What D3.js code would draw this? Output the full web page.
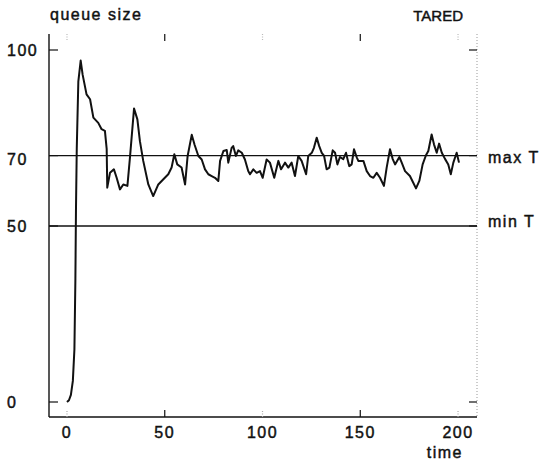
<!DOCTYPE html>
<html>
<head>
<meta charset="utf-8">
<script src="https://cdn.jsdelivr.net/npm/d3@7"></script>
<style>
  body { margin: 0; background: #fff; }
  text { font-family: "Liberation Sans", Arial, sans-serif; fill: #111; stroke: #111; stroke-width: 0.45px; }
</style>
</head>
<body>
<svg id="coversvg" width="542" height="462"></svg>
<script>
// queue size over time
var times = [0, 1, 2, 3, 3.8, 4.3, 4.6, 5, 5.8, 7, 8, 10, 11.8, 13.5, 16, 17.7, 19.4, 20.3, 20.6,
  22, 24, 25.4, 27.1, 28.8, 30.9, 32.2, 34.3, 36, 37.3, 39, 41.6, 44.1, 46.7, 49.3, 51.8,
  53.5, 54.9, 56.4, 58.6, 60.4, 61.7, 63.8, 65.3, 67.2, 68.9, 70.6, 72.3, 74, 75.7, 77.4,
  78.3, 80, 81.7, 82.5, 84.2, 85, 86.4, 87.6, 89.4, 91, 92.7, 93.6, 95.3, 97, 98.7, 100.1,
  102.1, 103.8, 106, 108.1, 109.5, 111.5, 113.2, 114.9, 116.6, 118.3, 120, 122.3, 123.4,
  125.2, 126.3, 127.7, 129, 130.3, 131.5, 132.8, 134.2, 135.9, 137.1, 138.3, 139.6, 141.3,
  142.7, 143.9, 144.4, 145.6, 146.8, 148.2, 149, 151.6, 153.3, 155, 156.7, 158.4, 160.1,
  162.1, 163.5, 165.2, 166.6, 167.8, 170, 171.2, 172.9, 175.4, 177.1, 178.5, 180.2, 181.9,
  183.6, 184.8, 186.5, 187.7, 189.1, 190.3, 191.7, 193.4, 195, 196.3, 197.6, 199.3, 200.5];
var queue = [0, 0.5, 2, 6, 15, 35, 55, 72, 91, 97, 93, 87.4, 86, 80.8, 79.3, 77.5, 77, 71.9, 60.9,
  65.1, 66.1, 63.7, 60.4, 61.8, 61.4, 69.4, 83.4, 80.3, 74.1, 68.5, 61.8, 58.5, 61.8, 63.3, 64.7,
  66.6, 70.4, 67.5, 66.6, 61.8, 69.9, 75.9, 73, 69.9, 68.9, 66.1, 64.7, 64.2, 63.7, 62.8,
  68.5, 71.3, 71.6, 68, 72.2, 72.7, 69.9, 71.5, 70.8, 68.9, 65.6, 64.7, 66.1, 65.1, 65.6, 63.7,
  68.9, 68, 63.7, 68.5, 66.1, 68, 66.6, 68, 64.2, 69.9, 68.5, 64.7, 69.9,
  70.8, 72.2, 75.1, 72.7, 70.8, 69.9, 66.1, 66.6, 71.5, 70.8, 67.5, 69.6, 69,
  70.8, 68, 67, 67.5, 71.8, 69.5, 68.5, 68.5, 65.6, 64.2, 63.7, 65.1, 63.7,
  61.4, 66.6, 71.8, 69, 67.5, 69.6, 68, 65.6, 64.2, 62.3, 60.7, 62.8, 67.5,
  70.1, 71.3, 76, 73.2, 70.8, 73.4, 70.8, 69, 67.5, 64.7, 68, 70.8, 68];

var xTicks = [0, 50, 100, 150, 200];
var yTicks = [0, 50, 70, 100];
var thresholds = [{name: 'max T', value: 70}, {name: 'min T', value: 50}];

var svg = d3.select('#coversvg');

var xScale = d3.scaleLinear()
               .domain([-9.2, 209.7])
               .range([49, 477]);
var yScale = d3.scaleLinear()
               .domain([0, 100])
               .range([402, 50]);

var yTop = 34, yBottom = 417;

// frame: solid left + bottom, dotted right
svg.append('line')
   .attr('x1', 49).attr('x2', 49)
   .attr('y1', yTop).attr('y2', yBottom)
   .style('stroke', '#111').style('stroke-width', '1.4px');
svg.append('line')
   .attr('x1', 49).attr('x2', 477)
   .attr('y1', yBottom).attr('y2', yBottom)
   .style('stroke', '#111').style('stroke-width', '1.4px');
svg.append('line')
   .attr('x1', 477).attr('x2', 477)
   .attr('y1', yTop).attr('y2', yBottom)
   .style('stroke', '#999').style('stroke-width', '1px')
   .style('stroke-dasharray', '1 2');

// x ticks, bottom and top
xTicks.forEach(function(t, i){
  var solid = (t == 50 || t == 150);
  svg.append('line')
     .attr('x1', xScale(t)).attr('x2', xScale(t))
     .attr('y1', yBottom).attr('y2', yBottom - 7)
     .style('stroke', solid ? '#111' : '#aaa')
     .style('stroke-width', '1.2px')
     .style('stroke-dasharray', solid ? null : '1 1.5');
  svg.append('line')
     .attr('x1', xScale(t)).attr('x2', xScale(t))
     .attr('y1', yTop).attr('y2', yTop + 7)
     .style('stroke', solid ? '#111' : '#bbb')
     .style('stroke-width', '1.2px')
     .style('stroke-dasharray', solid ? null : '1 1.5');
  svg.append('text')
     .attr('x', xScale(t))
     .attr('y', 438)
     .attr('text-anchor', 'middle')
     .style('font-size', '16px')
     .style('letter-spacing', '1.5px')
     .text(t);
});

// y ticks on left and right
yTicks.forEach(function(v){
  svg.append('line')
     .attr('x1', 49).attr('x2', 58)
     .attr('y1', yScale(v)).attr('y2', yScale(v))
     .style('stroke', '#111').style('stroke-width', '1.2px');
  svg.append('line')
     .attr('x1', 477).attr('x2', 469)
     .attr('y1', yScale(v)).attr('y2', yScale(v))
     .style('stroke', '#111').style('stroke-width', '1.2px');
  svg.append('text')
     .attr('x', 7)
     .attr('y', yScale(v))
     .attr('dy', v == 70 ? '0.6em' : '0.36em')
     .style('font-size', '16px')
     .style('letter-spacing', '1.5px')
     .text(v);
});

// threshold lines
thresholds.forEach(function(d){
  svg.append('line')
     .attr('x1', 49).attr('x2', 477)
     .attr('y1', yScale(d.value)).attr('y2', yScale(d.value))
     .style('stroke', '#111').style('stroke-width', '1.3px');
  svg.append('text')
     .attr('x', 488)
     .attr('y', yScale(d.value))
     .attr('dy', d.value == 70 ? '0.45em' : '0.05em')
     .style('font-size', '16px')
     .style('letter-spacing', '1.5px')
     .text(d.name);
});

// queue curve
var pts = times.map(function(t, i){ return [t, queue[i]]; });
var line = d3.line()
             .x(function(d){ return xScale(d[0]); })
             .y(function(d){ return yScale(d[1]); });
svg.append('path')
   .datum(pts)
   .attr('d', line)
   .style('fill', 'none')
   .style('stroke', '#111')
   .style('stroke-width', '2px')
   .style('stroke-linejoin', 'round');

// titles
svg.append('text')
   .attr('x', 50).attr('y', 20)
   .style('font-size', '16px')
   .style('letter-spacing', '1.5px')
   .text('queue size');
svg.append('text')
   .attr('x', 463).attr('y', 21)
   .attr('text-anchor', 'end')
   .style('font-size', '15px')
   .text('TARED');
svg.append('text')
   .attr('x', 463).attr('y', 458)
   .attr('text-anchor', 'end')
   .style('font-size', '16px')
   .style('letter-spacing', '1.5px')
   .text('time');
</script>
</body>
</html>
